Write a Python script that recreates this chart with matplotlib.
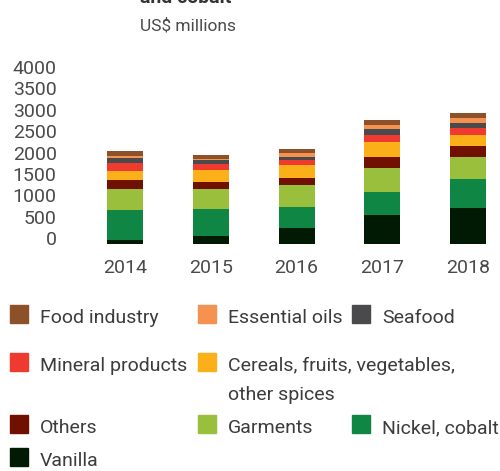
import matplotlib.pyplot as plt
import matplotlib.transforms as mtransforms
from matplotlib.patches import Rectangle

years = ['2014', '2015', '2016', '2017', '2018']

# stacked from the bottom up (US$ millions)
categories = ['Vanilla', 'Nickel, cobalt', 'Garments', 'Others',
              'Cereals, fruits, vegetables,\nother spices', 'Mineral products',
              'Seafood', 'Essential oils', 'Food industry']
values = {
    'Vanilla': [94, 187, 374, 678, 842],
    'Nickel, cobalt': [700, 632, 491, 538, 678],
    'Garments': [490, 468, 515, 561, 515],
    'Others': [210, 164, 164, 257, 257],
    'Cereals, fruits, vegetables,\nother spices': [210, 281, 304, 351, 257],
    'Mineral products': [187, 140, 117, 164, 164],
    'Seafood': [117, 94, 70, 140, 117],
    'Essential oils': [47, 23, 94, 94, 117],
    'Food industry': [117, 94, 94, 117, 117],
}
colors = {
    'Vanilla': '#001a03',
    'Nickel, cobalt': '#108645',
    'Garments': '#9abf3c',
    'Others': '#701000',
    'Cereals, fruits, vegetables,\nother spices': '#fbb01a',
    'Mineral products': '#ef3b2f',
    'Seafood': '#4a4a4c',
    'Essential oils': '#f5924f',
    'Food industry': '#8c5128',
}
# legend layout: (category, row, col)
legend_order = [
    ('Food industry', 0, 0), ('Essential oils', 0, 1), ('Seafood', 0, 2),
    ('Mineral products', 1, 0), ('Cereals, fruits, vegetables,\nother spices', 1, 1),
    ('Others', 2, 0), ('Garments', 2, 1), ('Nickel, cobalt', 2, 2),
    ('Vanilla', 3, 0),
]

FONT = 'Roboto'
W, H = 500, 471
fig = plt.figure(figsize=(W / 100, H / 100), dpi=100)
ax = fig.add_axes([65 / W, (H - 244) / H, 428.75 / W, 171 / H])

x = list(range(len(years)))
bottom = [0] * len(years)
for cat in categories:
    ax.bar(x, values[cat], bottom=bottom, width=0.42, color=colors[cat])
    bottom = [b + v for b, v in zip(bottom, values[cat])]

ax.set_xlim(-0.7, 4.3)
ax.set_ylim(0, 4000)
ax.set_yticks(range(0, 4001, 500))
ax.set_xticks(x)
ax.set_xticklabels(years)
for s in ax.spines.values():
    s.set_visible(False)
ax.tick_params(axis='both', length=0, labelsize=14, labelcolor='#4a4a4a')
ax.tick_params(axis='y', pad=6)
ax.tick_params(axis='x', pad=11)
for lab in ax.get_yticklabels() + ax.get_xticklabels():
    lab.set_fontfamily(FONT)
# y labels sit a little above their values in the original
offset = mtransforms.ScaledTranslation(0, 6 / 100, fig.dpi_scale_trans)
for lab in ax.get_yticklabels():
    lab.set_transform(lab.get_transform() + offset)

# title is cropped at the top edge in the original
fig.text(140 / W, 1 - 3 / H, 'and cobalt', fontsize=14, fontweight='bold',
         family=FONT, color='#333333', va='baseline')
fig.text(140 / W, 1 - 26 / H, 'US$ millions', fontsize=12.5, family=FONT,
         color='#4a4a4a', va='center')

col_x = [10, 198, 352]
row_y = [323, 371, 433, 466]  # handle bottoms / first-line baselines
for cat, r, c in legend_order:
    x0, yb = col_x[c], row_y[r]
    fig.patches.append(Rectangle((x0 / W, 1 - yb / H), 18 / W, 18 / H,
                                 transform=fig.transFigure, color=colors[cat]))
    lines = cat.split('\n')
    for i, line in enumerate(lines):
        fig.text((x0 + 30) / W, 1 - (yb + 29 * i) / H, line, fontsize=14,
                 family=FONT, color='#3c3c3c', va='baseline')

fig.savefig('out.png', dpi=100)
